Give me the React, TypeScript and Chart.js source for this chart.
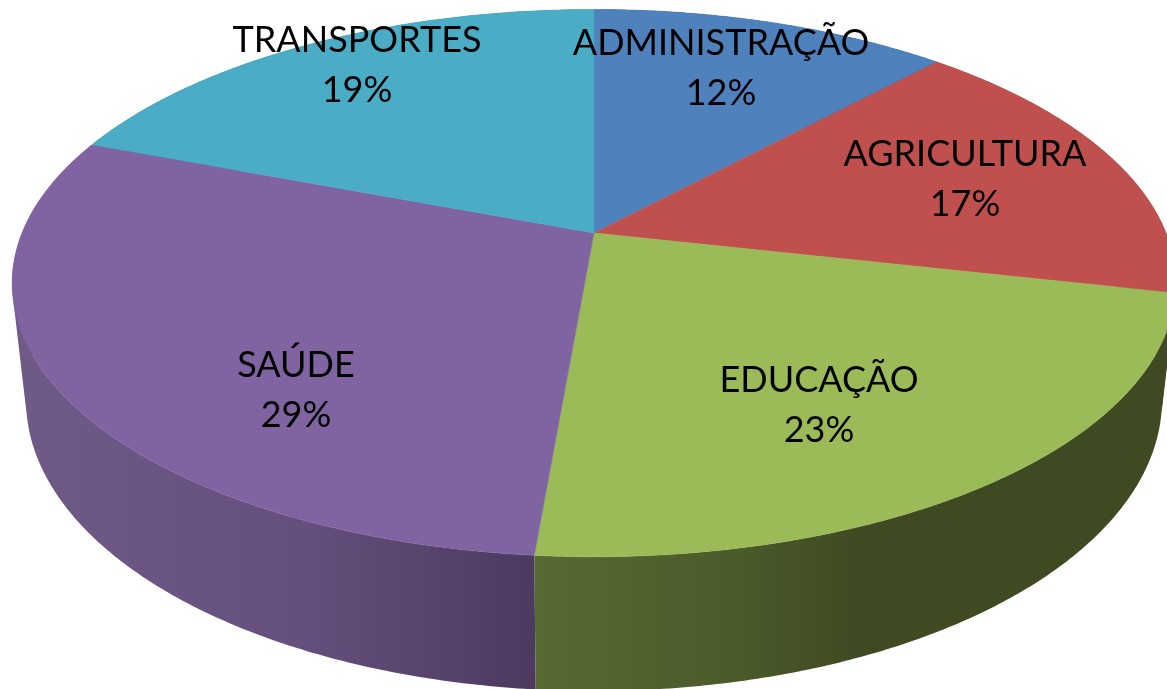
import React, { useEffect, useRef } from "react";
import { Chart, registerables } from "chart.js";

Chart.register(...registerables);

const categories = ["ADMINISTRAÇÃO", "AGRICULTURA", "EDUCAÇÃO", "SAÚDE", "TRANSPORTES"];
const shares = [11.9, 16.6, 22.86, 29.43, 19.21];
const topColors = ["#4f81bd", "#c0504d", "#9bbb59", "#8064a2", "#4bacc6"];

// Label anchors: centre x and first-line baseline, in canvas pixels.
const labelX = [721, 965, 819, 296, 357];
const labelY = [55, 166, 392, 377, 52];

// Perspective model of the disc.
const K = 0.183;
const CX = 594;
const TOP = { cy: 233, a: 264.5, b: 572 };
const BOTTOM = { cy: 346.7, a: 281.3, b: 558.4 };

// Shading of the wall along x: [x, colour] per slice.
const wallStops: [number, string][][] = [
  [[0, "#2f4d71"], [1167, "#2f4d71"]],
  [[0, "#733030"], [1167, "#733030"]],
  [[534, "#586a33"], [740, "#4a5a2a"], [860, "#3f4a22"], [1167, "#3f4a22"]],
  [[12, "#6f5a88"], [300, "#654f7d"], [534, "#4d3a5f"]],
  [[0, "#2d6777"], [1167, "#2d6777"]],
];

function project(face: { cy: number; a: number; b: number }, angle: number) {
  const u = Math.cos(angle);
  const v = Math.sin(angle);
  const w = 1 - K * v;
  return { x: CX + (face.b * u) / w, y: face.cy + (face.a * v) / w };
}

const pie3d = {
  id: "pie3d",
  beforeDatasetDraw(chart: any) {
    const ctx = chart.ctx;
    const arcs = chart.getDatasetMeta(0).data;
    const step = Math.PI / 360;

    const grads = wallStops.map((stops) => {
      const x0 = stops[0][0];
      const x1 = stops[stops.length - 1][0];
      const g = ctx.createLinearGradient(x0, 0, x1, 0);
      stops.forEach(([x, c]) => g.addColorStop((x - x0) / (x1 - x0), c));
      return g;
    });

    ctx.save();
    // side wall: one path per slice, made of consistently wound strips
    arcs.forEach((arc: any, i: number) => {
      const { startAngle, endAngle } = arc.getProps(["startAngle", "endAngle"], true);
      ctx.beginPath();
      for (let a = startAngle; a < endAngle; a += step) {
        const a1 = Math.min(a + step, endAngle);
        let pts = [project(TOP, a), project(TOP, a1), project(BOTTOM, a1), project(BOTTOM, a)];
        let area = 0;
        pts.forEach((p, n) => {
          const q = pts[(n + 1) % 4];
          area += p.x * q.y - q.x * p.y;
        });
        if (area < 0) pts = pts.reverse();
        ctx.moveTo(pts[0].x, pts[0].y);
        for (let n = 1; n < 4; n++) ctx.lineTo(pts[n].x, pts[n].y);
        ctx.closePath();
      }
      ctx.fillStyle = grads[i];
      ctx.fill();
    });

    // top face
    arcs.forEach((arc: any) => {
      const { startAngle, endAngle } = arc.getProps(["startAngle", "endAngle"], true);
      const color = arc.options.backgroundColor;
      ctx.beginPath();
      ctx.moveTo(CX, TOP.cy);
      for (let a = startAngle; a < endAngle; a += step) {
        const p = project(TOP, a);
        ctx.lineTo(p.x, p.y);
      }
      const e = project(TOP, endAngle);
      ctx.lineTo(e.x, e.y);
      ctx.closePath();
      ctx.fillStyle = color;
      ctx.strokeStyle = color;
      ctx.lineWidth = 0.5;
      ctx.fill();
      ctx.stroke();
    });
    ctx.restore();
    return false;
  },
  afterDatasetsDraw(chart: any) {
    const ctx = chart.ctx;
    const values: number[] = chart.data.datasets[0].data;
    const total = values.reduce((s, n) => s + n, 0);
    ctx.save();
    ctx.fillStyle = "#000";
    ctx.font = '36px Lato, "Open Sans", sans-serif';
    ctx.textAlign = "center";
    ctx.textBaseline = "alphabetic";
    chart.data.labels.forEach((label: string, i: number) => {
      ctx.fillText(label, labelX[i], labelY[i]);
      ctx.fillText(`${Math.round((values[i] / total) * 100)}%`, labelX[i], labelY[i] + 50);
    });
    ctx.restore();
  },
};

export default function App() {
  const ref = useRef<HTMLCanvasElement>(null);
  useEffect(() => {
    document.body.style.margin = "0";
    const chart = new Chart(ref.current!, {
      type: "pie",
      data: {
        labels: categories,
        datasets: [{ data: shares, backgroundColor: topColors, borderWidth: 0 }],
      },
      options: {
        animation: false,
        responsive: false,
        plugins: { legend: { display: false }, tooltip: { enabled: false } },
      },
      plugins: [pie3d],
    });
    return () => chart.destroy();
  }, []);
  return <canvas ref={ref} width={1167} height={689} style={{ display: "block" }} />;
}
